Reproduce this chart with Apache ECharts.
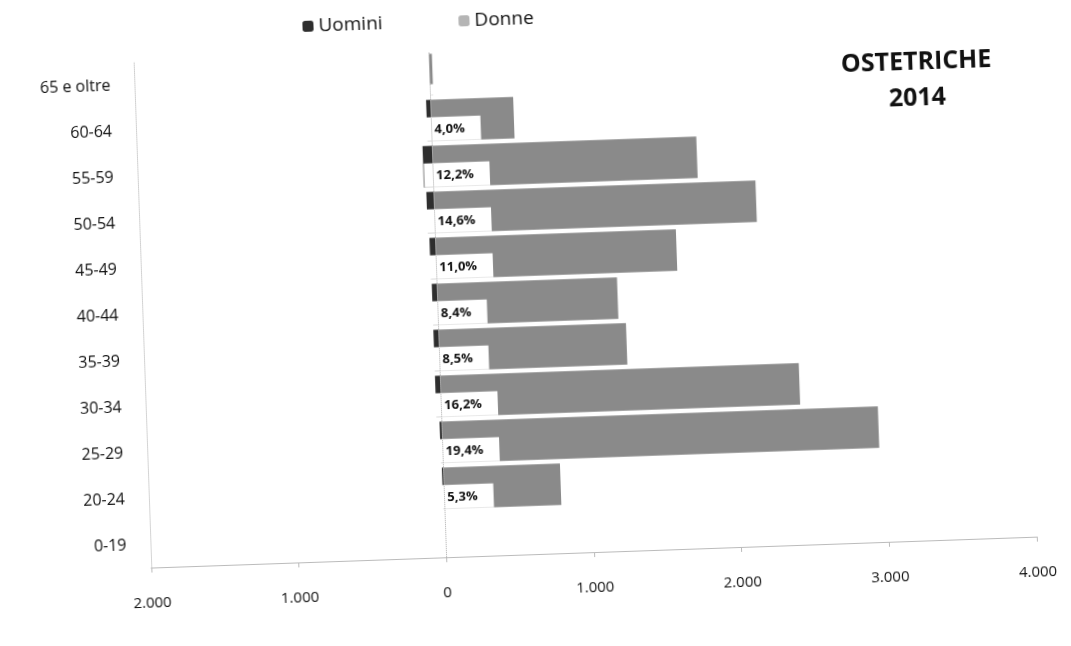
<!DOCTYPE html>
<html><head><meta charset="utf-8">
<script src="https://cdn.jsdelivr.net/npm/echarts@6/dist/echarts.min.js"></script>
<style>html,body{margin:0;padding:0;background:#fff;overflow:hidden}#c{width:1071px;height:646px;transform:rotate(-2deg);transform-origin:50% 50%}</style>
</head><body><div id="c"></div>
<script>
const categories = ['0-19','20-24','25-29','30-34','35-39','40-44','45-49','50-54','55-59','60-64','65 e oltre'];
const uomini = [0, 10, 15, 35, 35, 35, 40, 50, 65, 30, 0];
const donne = [0, 790, 2955, 2430, 1270, 1220, 1630, 2180, 1790, 560, 20];
const percentLabels = ['', '5,3%', '19,4%', '16,2%', '8,5%', '8,4%', '11,0%', '14,6%', '12,2%', '4,0%', ''];
const xTicks = [-2000, -1000, 0, 1000, 2000, 3000, 4000];

const fmt = v => { const a = Math.abs(v); return a === 0 ? '0' : (a/1000) + '.000'; };
const chart = echarts.init(document.getElementById('c'));
chart.setOption({
  animation: false,
  textStyle: {fontFamily: 'Open Sans'},
  legend: {top: 4, left: 308, itemWidth: 11, itemHeight: 11, itemGap: 76,
    textStyle: {fontSize: 19, color: '#111'}, data: [
      {name: 'Uomini', itemStyle: {color: '#2e2e2e'}},
      {name: 'Donne', itemStyle: {color: '#b5b5b5'}}]},
  title: {text: 'OSTETRICHE\n2014', left: 920, top: 53, textAlign: 'center',
    textStyle: {fontSize: 25, fontWeight: 'bold', color: '#111', lineHeight: 36}},
  grid: {left: 143, right: 42, top: 48, bottom: 92},
  xAxis: {type: 'value', min: xTicks[0], max: xTicks[xTicks.length-1], interval: 1000,
    axisLine: {show: true, lineStyle: {color: '#bbb'}}, axisTick: {show: true, lineStyle: {color: '#bbb'}},
    splitLine: {show: false},
    axisLabel: {formatter: fmt, fontSize: 15, color: '#111', margin: 28}},
  yAxis: {type: 'category', data: categories,
    axisLine: {show: true, onZero: false, lineStyle: {color: '#ccc', type: 'dotted'}}, axisTick: {show: false},
    axisLabel: {fontSize: 16, color: '#111', margin: 24}},
  series: [
    {name: 'Uomini', type: 'bar', data: uomini.map(v => -v), barGap: '-100%', barCategoryGap: '10%',
      itemStyle: {color: '#2e2e2e'}, z: 2},
    {name: 'Donne', type: 'bar', data: donne, barCategoryGap: '10%',
      itemStyle: {color: '#8a8a8a'}, z: 3,
      label: {show: true, position: 'insideBottomLeft', offset: [-14, 5],
        formatter: p => percentLabels[p.dataIndex],
        backgroundColor: '#fff', padding: [6, 16, 5, 12], fontSize: 13, fontWeight: 'bold', color: '#111'},
      markLine: {silent: true, symbol: 'none', label: {show: false},
        lineStyle: {color: '#aaa', type: 'dotted', width: 1}, data: [{xAxis: 0}]}}
  ]
});
</script></body></html>
